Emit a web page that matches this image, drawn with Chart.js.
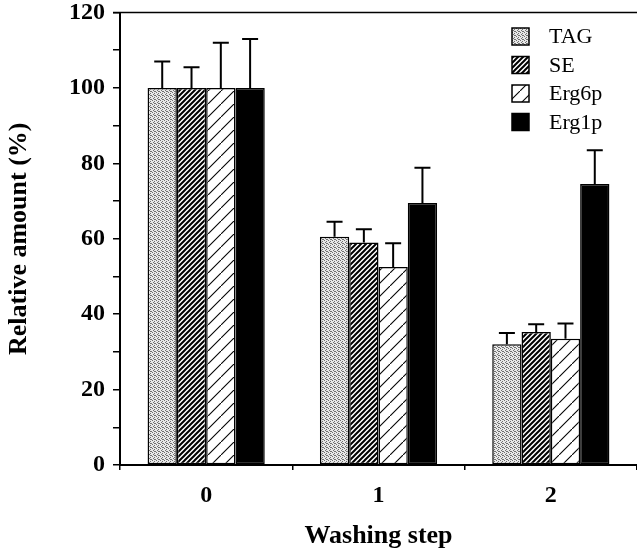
<!DOCTYPE html>
<html>
<head>
<meta charset="utf-8">
<script src="https://cdn.jsdelivr.net/npm/chart.js@4.4.1/dist/chart.umd.min.js"></script>
<style>
  html, body { margin: 0; padding: 0; background: #fff; }
  #wrap { width: 637px; height: 552px; }
</style>
</head>
<body>
<div id="wrap"><canvas id="chart" width="637" height="552"></canvas></div>
<script>
const categories = ['0', '1', '2'];
const seriesNames = ['TAG', 'SE', 'Erg6p', 'Erg1p'];

const tagValues = [100, 60.5, 32];
const tagErrors = [7, 4, 3];
const seValues = [100, 59, 35.3];
const seErrors = [5.5, 3.5, 2];
const erg6pValues = [100, 52.5, 33.5];
const erg6pErrors = [12, 6.3, 4];
const erg1pValues = [100, 69.5, 74.5];
const erg1pErrors = [13, 9.3, 9];

const yMax = 120;
const yStep = 10;
const yLabelEvery = 20;

const FONT = '"Liberation Serif", "Times New Roman", serif';

// fill textures, built once as canvas patterns
function makePattern(size, paint) {
  const c = document.createElement('canvas');
  c.width = size; c.height = size;
  const g = c.getContext('2d');
  paint(g, size);
  return g.createPattern(c, 'repeat');
}

const stipple = makePattern(4, (g) => {
  g.fillStyle = '#e8e8e8';
  g.fillRect(0, 0, 4, 4);
  g.fillStyle = '#707070';
  [[0, 0], [2, 1], [1, 2], [3, 3], [2, 3]].forEach(([x, y]) => g.fillRect(x, y, 1, 1));
});

const denseHatch = makePattern(5, (g, s) => {
  g.fillStyle = '#fff';
  g.fillRect(0, 0, s, s);
  g.strokeStyle = '#000';
  g.lineWidth = 2;
  g.beginPath();
  g.moveTo(-1, s + 1); g.lineTo(s + 1, -1);
  g.moveTo(-1 - s, s + 1); g.lineTo(1, -1);
  g.moveTo(s - 1, s + 1); g.lineTo(2 * s + 1, -1);
  g.stroke();
});

const sparseHatch = makePattern(13, (g, s) => {
  g.fillStyle = '#fff';
  g.fillRect(0, 0, s, s);
  g.strokeStyle = '#000';
  g.lineWidth = 1.1;
  g.beginPath();
  g.moveTo(0, s); g.lineTo(s, 0);
  g.stroke();
});

const fills = [stipple, denseHatch, sparseHatch, '#000'];
const valueSets = [tagValues, seValues, erg6pValues, erg1pValues];
const errorSets = [tagErrors, seErrors, erg6pErrors, erg1pErrors];

const errorBars = {
  id: 'errorBars',
  afterDatasetsDraw(chart) {
    const { ctx } = chart;
    const y = chart.scales.y;
    ctx.save();
    ctx.strokeStyle = '#000';
    ctx.lineWidth = 2;
    chart.data.datasets.forEach((ds, i) => {
      chart.getDatasetMeta(i).data.forEach((bar, j) => {
        const top = y.getPixelForValue(ds.data[j] + ds.errors[j]);
        ctx.beginPath();
        ctx.moveTo(bar.x, bar.y);
        ctx.lineTo(bar.x, top);
        ctx.moveTo(bar.x - 8, top);
        ctx.lineTo(bar.x + 8, top);
        ctx.stroke();
      });
    });
    ctx.restore();
  },
};

const frameAndLegend = {
  id: 'frameAndLegend',
  afterDraw(chart) {
    const { ctx, chartArea } = chart;
    ctx.save();
    // top frame line
    ctx.strokeStyle = '#000';
    ctx.lineWidth = 1.5;
    ctx.beginPath();
    ctx.moveTo(chartArea.left - 7, chartArea.top);
    ctx.lineTo(chartArea.right, chartArea.top);
    ctx.stroke();

    // legend in the upper right corner
    const boxX = chartArea.right - 125;
    let rowY = chartArea.top + 24;
    ctx.font = '22px ' + FONT;
    ctx.textBaseline = 'middle';
    chart.data.datasets.forEach((ds) => {
      ctx.fillStyle = ds.backgroundColor;
      ctx.fillRect(boxX, rowY - 8.5, 17, 17);
      ctx.lineWidth = 1.5;
      ctx.strokeRect(boxX, rowY - 8.5, 17, 17);
      ctx.fillStyle = '#000';
      ctx.fillText(ds.label, boxX + 37, rowY + 1);
      rowY += 28.5;
    });
    ctx.restore();
  },
};

new Chart(document.getElementById('chart'), {
  type: 'bar',
  data: {
    labels: categories,
    datasets: seriesNames.map((name, i) => ({
      label: name,
      data: valueSets[i],
      errors: errorSets[i],
      backgroundColor: fills[i],
      borderColor: '#000',
      borderWidth: 1.5,
      borderSkipped: false,
      categoryPercentage: 0.68,
      barPercentage: 1.0,
    })),
  },
  options: {
    responsive: false,
    animation: false,
    layout: { padding: { top: 12.5, right: 0, bottom: 0, left: 0 } },
    plugins: { legend: { display: false }, tooltip: { enabled: false } },
    scales: {
      x: {
        afterFit: (s) => { s.height = 87; s.paddingLeft = 0; s.paddingRight = 0; },
        border: { display: true, color: '#000', width: 2 },
        grid: { display: true, drawOnChartArea: false, offset: true, tickLength: 5, color: '#000', lineWidth: 1.5 },
        ticks: { color: '#000', padding: 11, font: { family: FONT, size: 24, weight: 'bold' } },
        title: {
          display: true, text: 'Washing step', color: '#000',
          padding: { top: 0, bottom: 0 },
          font: { family: FONT, size: 26, weight: 'bold' },
        },
      },
      y: {
        min: 0,
        max: yMax,
        afterFit: (s) => { s.width = 120; s.paddingTop = 0; s.paddingBottom = 0; },
        border: { display: true, color: '#000', width: 2 },
        grid: { display: true, drawOnChartArea: false, tickLength: 7, color: '#000', lineWidth: 1.5 },
        ticks: {
          stepSize: yStep,
          color: '#000',
          padding: 8,
          autoSkip: false,
          font: { family: FONT, size: 24, weight: 'bold' },
          callback: (v) => (v % yLabelEvery === 0 ? v : ''),
        },
        title: {
          display: true, text: 'Relative amount (%)', color: '#000',
          padding: { top: 4, bottom: 0 },
          font: { family: FONT, size: 26, weight: 'bold' },
        },
      },
    },
  },
  plugins: [errorBars, frameAndLegend],
});
</script>
</body>
</html>
